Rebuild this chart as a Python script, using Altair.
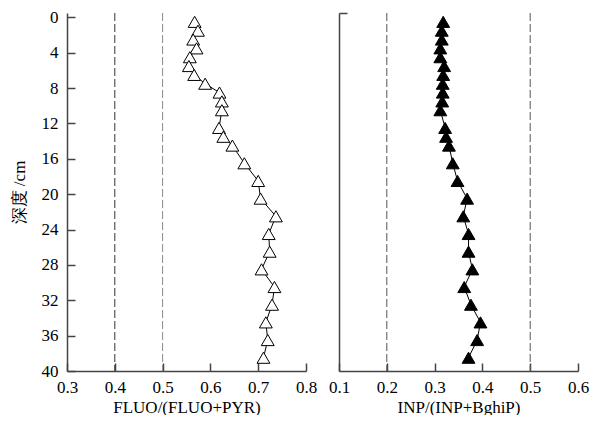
import altair as alt
import pandas as pd

depth = [0.5, 1.5, 2.5, 3.5, 4.5, 5.5, 6.5, 7.5, 8.5, 9.5, 10.5, 12.5, 13.5, 14.5,
         16.5, 18.5, 20.5, 22.5, 24.5, 26.5, 28.5, 30.5, 32.5, 34.5, 36.5, 38.5]
fluo = [0.567, 0.574, 0.564, 0.571, 0.557, 0.555, 0.566, 0.589, 0.619, 0.624, 0.624,
        0.618, 0.627, 0.646, 0.671, 0.700, 0.705, 0.737, 0.722, 0.724, 0.707, 0.734,
        0.729, 0.716, 0.720, 0.711]
inp = [0.318, 0.315, 0.315, 0.312, 0.312, 0.320, 0.318, 0.317, 0.317, 0.316, 0.312,
       0.322, 0.324, 0.330, 0.338, 0.348, 0.368, 0.360, 0.371, 0.371, 0.379, 0.362,
       0.376, 0.396, 0.389, 0.371]

left_ref = [0.4, 0.5]
left_ref_color = ["#333333", "#888888"]
right_ref = [0.2, 0.5]
right_ref_color = ["#555555", "#555555"]

y_ticks = [0, 4, 8, 12, 16, 20, 24, 28, 32, 36, 40]
left_x_ticks = [0.3, 0.4, 0.5, 0.6, 0.7, 0.8]
right_x_ticks = [0.1, 0.2, 0.3, 0.4, 0.5, 0.6]

FONT = "Liberation Serif"
FS = 17
W, H = 239, 358
INNER = {"expr": "-8"}

df = pd.DataFrame({"depth": depth, "fluo": fluo, "inp": inp})
ldf = pd.DataFrame({"x": left_ref, "c": left_ref_color})
rdf = pd.DataFrame({"x": right_ref, "c": right_ref_color})

yscale = alt.Scale(domain=[-0.5, 40], reverse=True, nice=False, zero=False)


def panel(xfield, xdom, xticks, xtitle, refdf, filled, left):
    xs = alt.Scale(domain=xdom, nice=False, zero=False)
    xaxis = alt.Axis(values=xticks, format=".1f", title=xtitle, tickSize=INNER,
                     labelPadding=16, titlePadding=4, grid=False,
                     labelOverlap=False, labelFlush=False)
    if left:
        yaxis = alt.Axis(values=y_ticks, title="深度 /cm", tickSize=INNER,
                         labelPadding=17, titlePadding=13, grid=False,
                         labelOverlap=False, labelFlush=False)
    else:
        yaxis = alt.Axis(values=[-0.5], labels=False, title=None, tickSize=INNER,
                         grid=False)
    X = alt.X(f"{xfield}:Q", scale=xs, axis=xaxis)
    Y = alt.Y("depth:Q", scale=yscale, axis=yaxis)
    base = alt.Chart(df)
    line = base.mark_line(color="black", strokeWidth=1).encode(
        x=X, y=Y, order="depth:Q",
    )
    pts = base.mark_point(
        shape="triangle-up", size=165, filled=True,
        fill="black" if filled else "white", stroke="black", strokeWidth=1,
        opacity=1,
    ).encode(x=X, y=Y)
    rules = alt.Chart(refdf).mark_rule(strokeDash=[8, 3], strokeWidth=1).encode(
        x=alt.X("x:Q", scale=xs, axis=xaxis),
        stroke=alt.Stroke("c:N", scale=None),
    )
    return alt.layer(rules, line, pts).properties(width=W, height=H)


left = panel("fluo", [0.3, 0.8], left_x_ticks, "FLUO/(FLUO+PYR)", ldf, False, True)
right = panel("inp", [0.1, 0.6], right_x_ticks, "INP/(INP+BghiP)", rdf, True, False)

chart = alt.hconcat(left, right, spacing=11).properties(
    padding={"left": 2, "top": 0, "right": 0, "bottom": 0}
).configure_view(stroke=None).configure_axis(
    domainColor="#444444", domainWidth=1.5, tickColor="#444444", tickWidth=1.5,
    labelFont=FONT, labelFontSize=FS, labelColor="black",
    titleFont=FONT, titleFontSize=FS, titleColor="black", titleFontWeight="normal",
)

chart.save("out.html", embed_options={"renderer": "svg", "actions": False})
